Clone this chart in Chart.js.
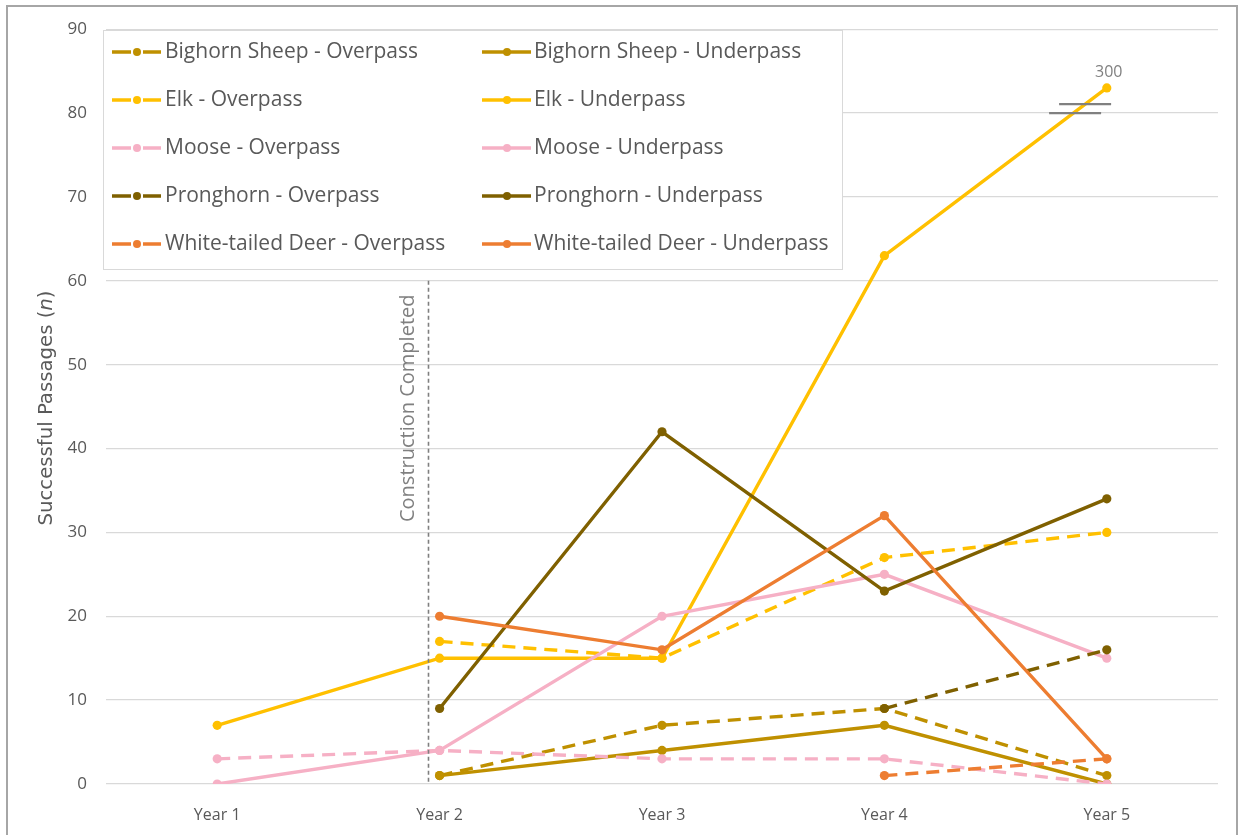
<!DOCTYPE html>
<html>
<head>
<meta charset="utf-8">
<script src="https://cdn.jsdelivr.net/npm/chart.js@4.4.1/dist/chart.umd.min.js"></script>
<style>
  html, body { margin: 0; padding: 0; background: #fff; }
  canvas { display: block; }
</style>
</head>
<body>
<canvas id="passChart" width="1239" height="835"></canvas>
<script>
// Data
const years = ['Year 1', 'Year 2', 'Year 3', 'Year 4', 'Year 5'];
const bighornOver    = [null, 1, 7, 9, 1];
const bighornUnder   = [null, 1, 4, 7, 0];
const elkOver        = [null, 17, 15, 27, 30];
const elkUnder       = [7, 15, 15, 63, 83];   // Year 5 is really 300, drawn above the axis break
const mooseOver      = [3, 4, 3, 3, 0];
const mooseUnder     = [0, 4, 20, 25, 15];
const pronghornOver  = [null, null, null, 9, 16];
const pronghornUnder = [null, 9, 42, 23, 34];
const deerOver       = [null, null, null, 1, 3];
const deerUnder      = [null, 20, 16, 32, 3];
const yTicks = [0, 10, 20, 30, 40, 50, 60, 70, 80, 90];
const breakLabel = '300';
const noteLabel = 'Construction Completed';

const FONT = '"Open Sans", "Noto Sans", sans-serif';
const TEXT = '#595959';
const DASH = [13, 8];

const series = [
  { label: 'Bighorn Sheep - Overpass',      data: bighornOver,    color: '#BF9000', dashed: true },
  { label: 'Bighorn Sheep - Underpass',     data: bighornUnder,   color: '#BF9000', dashed: false },
  { label: 'Elk - Overpass',                data: elkOver,        color: '#FFC000', dashed: true },
  { label: 'Elk - Underpass',               data: elkUnder,       color: '#FFC000', dashed: false },
  { label: 'Moose - Overpass',              data: mooseOver,      color: '#F6B0C5', dashed: true },
  { label: 'Moose - Underpass',             data: mooseUnder,     color: '#F6B0C5', dashed: false },
  { label: 'Pronghorn - Overpass',          data: pronghornOver,  color: '#7F6000', dashed: true },
  { label: 'Pronghorn - Underpass',         data: pronghornUnder, color: '#7F6000', dashed: false },
  { label: 'White-tailed Deer - Overpass',  data: deerOver,       color: '#ED7D31', dashed: true },
  { label: 'White-tailed Deer - Underpass', data: deerUnder,      color: '#ED7D31', dashed: false }
];

// frame, annotations, legend box and axis title
const extras = {
  id: 'extras',
  beforeDraw(chart) {
    const c = chart.ctx;
    c.save();
    c.fillStyle = '#fff';
    c.fillRect(0, 0, chart.width, chart.height);
    c.strokeStyle = '#A6A6A6';
    c.lineWidth = 2;
    c.strokeRect(7, 6, 1230, 860);
    c.restore();
  },
  afterDatasetsDraw(chart) {
    const c = chart.ctx, x = chart.scales.x, y = chart.scales.y;
    c.save();
    // construction marker
    const lx = Math.round(x.getPixelForValue(0.95)) + 0.5;
    c.strokeStyle = '#7F7F7F';
    c.lineWidth = 1.6;
    c.setLineDash([4, 3]);
    c.beginPath();
    c.moveTo(lx, y.getPixelForValue(60));
    c.lineTo(lx, y.getPixelForValue(0));
    c.stroke();
    c.setLineDash([]);
    c.translate(lx - 20, y.getPixelForValue(44.8));
    c.rotate(-Math.PI / 2);
    c.fillStyle = '#808080';
    c.font = '20px ' + FONT;
    c.textAlign = 'center';
    c.textBaseline = 'middle';
    c.fillText(noteLabel, 0, 0);
    c.restore();

    // axis break on Elk - Underpass, Year 5
    c.save();
    const bx = x.getPixelForValue(3.88);
    c.strokeStyle = '#808080';
    c.lineWidth = 2.2;
    c.beginPath();
    c.moveTo(bx - 21, y.getPixelForValue(81.07));
    c.lineTo(bx + 31, y.getPixelForValue(81.07));
    c.moveTo(bx - 31, y.getPixelForValue(80));
    c.lineTo(bx + 21, y.getPixelForValue(80));
    c.stroke();
    const pt = chart.getDatasetMeta(3).data[4];
    c.fillStyle = '#808080';
    c.font = '16px ' + FONT;
    c.textAlign = 'center';
    c.textBaseline = 'middle';
    c.fillText(breakLabel, pt.x + 2, pt.y - 15);
    c.restore();
  },
  afterDraw(chart) {
    const c = chart.ctx;
    c.save();
    // legend box
    c.fillStyle = '#fff';
    c.fillRect(103.5, 30.5, 739, 239);
    c.strokeStyle = '#D9D9D9';
    c.lineWidth = 1;
    c.strokeRect(103.5, 30.5, 739, 239);
    c.font = '21px ' + FONT;
    c.textBaseline = 'middle';
    c.textAlign = 'left';
    series.forEach((s, i) => {
      const col = i % 2, row = Math.floor(i / 2);
      const sx = col ? 482 : 112;
      const tx = col ? 534 : 165;
      const yy = 52 + row * 48;
      c.strokeStyle = s.color;
      c.fillStyle = s.color;
      c.lineWidth = 3.3;
      c.beginPath();
      if (s.dashed) {
        c.moveTo(sx, yy); c.lineTo(sx + 19, yy);
        c.moveTo(sx + 31, yy); c.lineTo(sx + 49, yy);
      } else {
        c.moveTo(sx, yy); c.lineTo(sx + 49, yy);
      }
      c.stroke();
      c.beginPath();
      c.arc(sx + 25, yy, 4, 0, Math.PI * 2);
      c.fill();
      c.fillStyle = TEXT;
      c.fillText(s.label, tx, yy);
    });
    c.restore();

    // y axis title with italic n
    c.save();
    const narrow = '"Liberation Sans Narrow", "DejaVu Sans Condensed", ' + FONT;
    const parts = [['Successful Passages (', '20px ' + narrow], ['n', 'italic 20px ' + narrow], [')', '20px ' + narrow]];
    let total = 0;
    parts.forEach(p => { c.font = p[1]; p.w = c.measureText(p[0]).width; total += p.w; });
    const k = 235 / total;
    c.translate(47, 408);
    c.rotate(-Math.PI / 2);
    c.scale(k, 1);
    c.fillStyle = TEXT;
    c.textBaseline = 'middle';
    c.textAlign = 'left';
    let px = -total / 2;
    parts.forEach(p => { c.font = p[1]; c.fillText(p[0], px, 0); px += p.w; });
    c.restore();
  }
};

const ctx = document.getElementById('passChart').getContext('2d');
const chart = new Chart(ctx, {
  type: 'line',
  data: {
    labels: years,
    datasets: series.map((s, i) => ({
      label: s.label,
      data: s.data,
      borderColor: s.color,
      backgroundColor: s.color,
      borderWidth: 3.4,
      borderDash: s.dashed ? DASH : [],
      pointRadius: 4.6,
      pointBorderWidth: 0,
      pointBackgroundColor: s.color,
      tension: 0,
      fill: false,
      order: series.length - i
    }))
  },
  options: {
    responsive: false,
    animation: false,
    layout: { padding: { top: 28, right: 21, left: 0, bottom: 0 } },
    plugins: { legend: { display: false }, tooltip: { enabled: false } },
    scales: {
      x: {
        offset: true,
        grid: { display: false },
        border: { display: false },
        ticks: { color: TEXT, font: { family: FONT, size: 16 }, padding: 14 },
        afterFit: s => { s.height = 51; }
      },
      y: {
        min: 0,
        max: 90,
        afterBuildTicks: s => { s.ticks = yTicks.map(v => ({ value: v })); },
        grid: { color: '#D9D9D9', lineWidth: 1.3, drawTicks: false },
        border: { display: false },
        ticks: { color: TEXT, font: { family: FONT, size: 17 }, padding: 19 },
        afterFit: s => { s.width = 106; }
      }
    }
  },
  plugins: [extras]
});
</script>
</body>
</html>
